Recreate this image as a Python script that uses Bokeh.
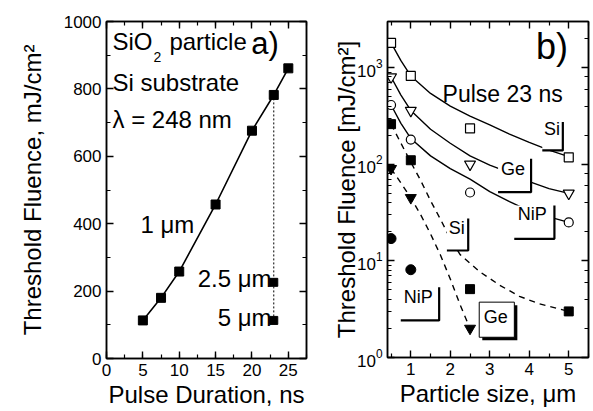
from bokeh.plotting import figure
from bokeh.layouts import row
from bokeh.models import (LinearAxis, LogAxis, Label, FixedTicker,
                          SingleIntervalTicker, Range1d, CustomJSTickFormatter)
from bokeh.embed import file_html
from bokeh.resources import INLINE

FONT = "Liberation Sans"

# ---- (a) threshold fluence vs pulse duration, SiO2 particles on Si, 248 nm ----
pulse_ns = [5, 7.5, 10, 15, 20, 23, 25]
fluence_1um = [113, 180, 258, 457, 676, 782, 861]
pulse_fixed_ns = 23
fluence_2p5um = 226
fluence_5um = 113

# ---- (b) threshold fluence vs particle size at 23 ns ----
size_um = [0.5, 1, 2.5, 5]
open_si = [1800, 820, 235, 118]
open_ge = [800, 360, 100, 50]
open_nip = [410, 180, 51, 25]
filled_si = [260, 110, 5.1, 3.0]
size_ge_filled = [0.5, 1, 2.5]
filled_ge = [90, 45, 2.0]
size_nip_filled = [0.5, 1]
filled_nip = [17, 8.1]

# trend lines drawn through the measured points
trend_x = [0.5, 0.75, 1.0, 1.5, 2.0, 2.5, 3.0, 3.5, 4.0, 4.5, 5.0]
trend_open_si = [1800, 1180, 820, 540, 400, 315, 255, 205, 168, 140, 120]
trend_open_ge = [800, 520, 360, 230, 165, 122, 98, 82, 66, 56, 50]
trend_open_nip = [410, 265, 185, 122, 90, 70, 52, 41, 33, 28.5, 25]
trend_si_x = [0.5, 0.75, 1.0, 1.25, 1.5, 1.75, 2.0, 2.25, 2.75, 3.25, 3.75, 4.25, 5.0]
trend_filled_si = [260, 165, 105, 68, 42, 27, 17, 11.6, 7.7, 5.6, 4.3, 3.6, 3.0]
trend_ge_x = [0.5, 0.75, 1.0, 1.25, 1.5, 1.75, 2.0, 2.25, 2.5]
trend_filled_ge = [90, 64, 45, 30, 19, 11.5, 6.5, 3.5, 2.0]

TICK_PX = "17px"
TITLE_PX = "24px"


def style_axis(ax, labels=True):
    ax.axis_line_color = "black"
    ax.axis_line_width = 1.5
    ax.major_tick_line_color = "black"
    ax.minor_tick_line_color = "black"
    ax.major_tick_line_width = 1.4
    ax.minor_tick_line_width = 1.2
    ax.major_tick_in = 7
    ax.major_tick_out = 0
    ax.minor_tick_in = 4
    ax.minor_tick_out = 0
    ax.major_label_text_font = FONT
    ax.major_label_text_color = "black"
    ax.axis_label_text_font = FONT
    ax.axis_label_text_font_style = "normal"
    ax.axis_label_text_font_size = TITLE_PX
    ax.axis_label_text_color = "black"
    ax.major_label_text_font_size = TICK_PX
    if labels:
        ax.major_label_standoff = 5
    else:
        # mirror axis: tick marks only
        ax.formatter = CustomJSTickFormatter(code="return '';")
        ax.major_label_standoff = 0


def label(p, x, y, text, size, align="left"):
    p.add_layout(Label(x=x, y=y, text=text, text_font=FONT, text_font_size=size,
                       text_color="black", text_align=align,
                       text_baseline="middle"))


# ------------------------------- panel (a) -------------------------------
pa = figure(frame_width=200, frame_height=337, min_border_left=106,
            min_border_right=4, min_border_top=18, min_border_bottom=56,
            x_range=Range1d(0, 27.5), y_range=Range1d(0, 1000),
            output_backend="svg", toolbar_location=None)
pa.grid.visible = False
pa.outline_line_color = "black"
pa.outline_line_width = 1.5
pa.background_fill_color = "white"
pa.border_fill_color = "white"

pa.xaxis.ticker = SingleIntervalTicker(interval=5, num_minor_ticks=2)
pa.yaxis.ticker = SingleIntervalTicker(interval=200, num_minor_ticks=2)
pa.xaxis.axis_label = "Pulse Duration, ns"
pa.yaxis.axis_label = "Threshold Fluence, mJ/cm\u00b2"
style_axis(pa.xaxis[0])
style_axis(pa.yaxis[0])
pa.xaxis.axis_label_standoff = 2
pa.yaxis.axis_label_standoff = 15
top_a = LinearAxis(ticker=SingleIntervalTicker(interval=5, num_minor_ticks=2))
right_a = LinearAxis(ticker=SingleIntervalTicker(interval=200, num_minor_ticks=2))
style_axis(top_a, labels=False)
style_axis(right_a, labels=False)
pa.add_layout(top_a, "above")
pa.add_layout(right_a, "right")

# dotted guide at the fixed pulse duration
pa.segment(x0=[pulse_fixed_ns], y0=[fluence_5um],
           x1=[pulse_fixed_ns], y1=[fluence_1um[pulse_ns.index(pulse_fixed_ns)]],
           line_color="black", line_width=1, line_dash="2 2")
pa.line(pulse_ns, fluence_1um, line_color="black", line_width=1.6)
pa.scatter(pulse_ns, fluence_1um, marker="square", size=9,
           fill_color="black", line_color="black")
pa.scatter([pulse_fixed_ns, pulse_fixed_ns], [fluence_2p5um, fluence_5um],
           marker="square", size=8, fill_color="black", line_color="black")

label(pa, 0.82, 940, "SiO", "24px")
label(pa, 6.45, 896, "2", "14px")
label(pa, 8.65, 940, "particle", "24px")
label(pa, 19.9, 936, "a)", "31px")
label(pa, 0.82, 819, "Si substrate", "24px")
label(pa, 0.82, 710, "\u03bb = 248 nm", "24px")
label(pa, 4.67, 399, "1 \u03bcm", "24px")
label(pa, 22.7, 238, "2.5 \u03bcm", "24px", align="right")
label(pa, 22.7, 122, "5 \u03bcm", "24px", align="right")

# ------------------------------- panel (b) -------------------------------
pb = figure(frame_width=201, frame_height=336, min_border_left=77,
            min_border_right=5, min_border_top=21, min_border_bottom=54,
            x_range=Range1d(0.41, 5.5), y_range=Range1d(1, 3000),
            y_axis_type="log", output_backend="svg", toolbar_location=None)
pb.grid.visible = False
pb.outline_line_color = "black"
pb.outline_line_width = 1.5
pb.background_fill_color = "white"
pb.border_fill_color = "white"

bx_ticks = [1, 2, 3, 4, 5]
bx_minor = [0.5, 1.5, 2.5, 3.5, 4.5, 5.5]
pb.xaxis.ticker = FixedTicker(ticks=bx_ticks, minor_ticks=bx_minor)
pb.xaxis.axis_label = "Particle size, \u03bcm"
pb.yaxis.axis_label = "Threshold Fluence [mJ/cm\u00b2]"
style_axis(pb.xaxis[0])
style_axis(pb.yaxis[0])
pb.xaxis.axis_label_standoff = 2
pb.yaxis.axis_label_standoff = -6
top_b = LinearAxis(ticker=FixedTicker(ticks=bx_ticks, minor_ticks=bx_minor))
right_b = LogAxis()
style_axis(top_b, labels=False)
style_axis(right_b, labels=False)
pb.add_layout(top_b, "above")
pb.add_layout(right_b, "right")

# trend lines
pb.line(trend_x, trend_open_si, line_color="black", line_width=1.4)
pb.line(trend_x, trend_open_ge, line_color="black", line_width=1.4)
pb.line(trend_x, trend_open_nip, line_color="black", line_width=1.4)
pb.line(trend_si_x, trend_filled_si, line_color="black", line_width=1.4,
        line_dash="6 5")
pb.line(trend_ge_x, trend_filled_ge, line_color="black", line_width=1.4,
        line_dash="6 5")


def tag(p, text, tx, ty, left, right, bottom, top):
    """White label box with a bracket on its right and lower edges."""
    p.quad(left=[left], right=[right], bottom=[bottom], top=[top],
           fill_color="white", line_color=None)
    p.line([right, right, left], [top, bottom, bottom],
           line_color="black", line_width=2.2)
    label(p, tx, ty, text, "18px")


tag(pb, "Si", 4.376, 232, 4.33, 4.85, 139, 273)
tag(pb, "Ge", 3.284, 90, 3.21, 4.046, 51.4, 114)
tag(pb, "NiP", 3.708, 30.2, 3.62, 4.637, 16.9, 37.4)
tag(pb, "Si", 1.964, 22, 1.914, 2.454, 12.8, 27.5)
tag(pb, "NiP", 0.822, 4.22, 0.746, 1.718, 2.42, 5.34)

# boxed label with drop shadow
pb.quad(left=[2.81], right=[3.698], bottom=[1.51], top=[3.48],
        fill_color="black", line_color=None)
pb.quad(left=[2.733], right=[3.622], bottom=[1.62], top=[3.74],
        fill_color="white", line_color="black", line_width=1)
label(pb, 2.845, 2.6, "Ge", "18px")

# measured points
pb.scatter(size_um, open_si, marker="square", size=9, fill_color="white",
           line_color="black", line_width=1.2)
pb.scatter(size_um, open_ge, marker="inverted_triangle", size=11,
           fill_color="white", line_color="black", line_width=1.2)
pb.scatter(size_um, open_nip, marker="circle", size=9, fill_color="white",
           line_color="black", line_width=1.2)
pb.scatter(size_um, filled_si, marker="square", size=9, fill_color="black",
           line_color="black")
pb.scatter(size_ge_filled, filled_ge, marker="inverted_triangle", size=11,
           fill_color="black", line_color="black")
pb.scatter(size_nip_filled, filled_nip, marker="circle", size=10,
           fill_color="black", line_color="black")

label(pb, 1.805, 530, "Pulse 23 ns", "23px")
label(pb, 4.17, 1640, "b)", "36px")

layout = row(pa, pb)
open("out.html", "w").write(file_html(layout, INLINE))
